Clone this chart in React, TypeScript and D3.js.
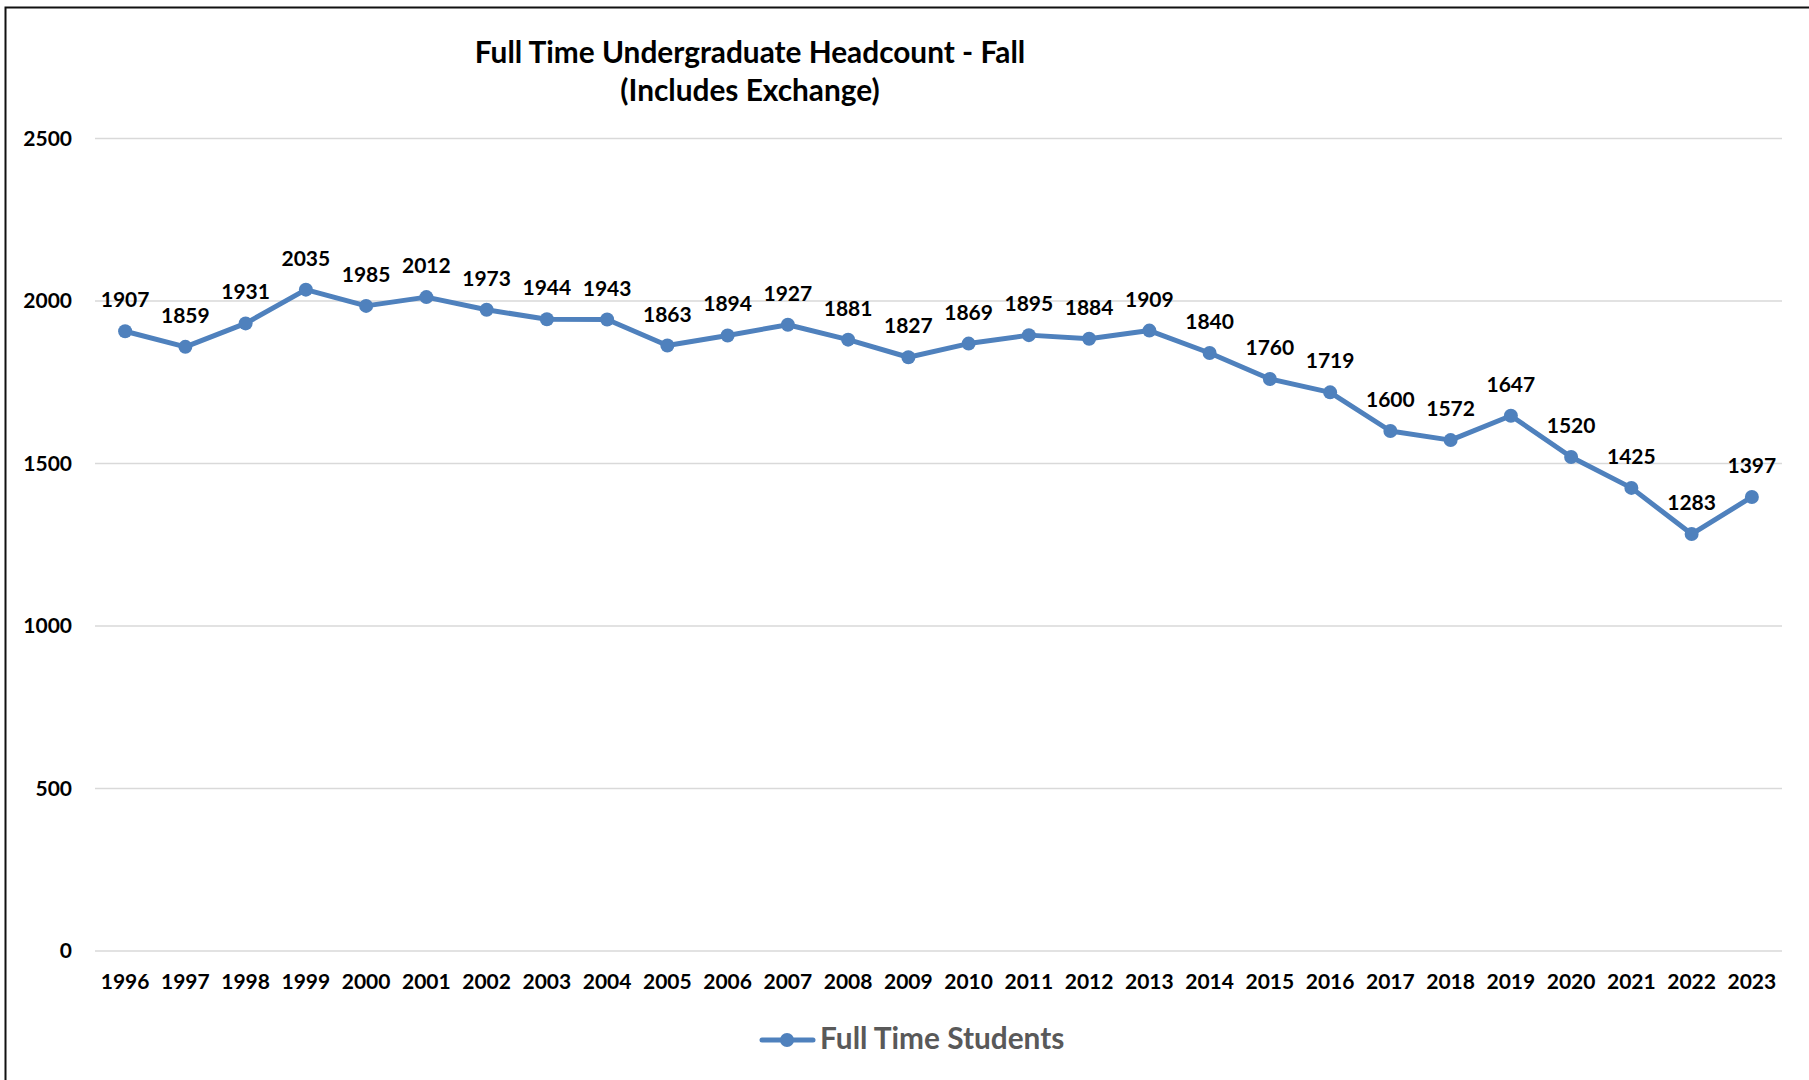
import * as d3 from "d3";
import React from "react";

const years = [
  "1996", "1997", "1998", "1999", "2000", "2001", "2002", "2003", "2004", "2005",
  "2006", "2007", "2008", "2009", "2010", "2011", "2012", "2013", "2014", "2015",
  "2016", "2017", "2018", "2019", "2020", "2021", "2022", "2023",
];

const fullTimeStudents = [
  1907, 1859, 1931, 2035, 1985, 2012, 1973, 1944, 1943, 1863,
  1894, 1927, 1881, 1827, 1869, 1895, 1884, 1909, 1840, 1760,
  1719, 1600, 1572, 1647, 1520, 1425, 1283, 1397,
];

const yTicks = [0, 500, 1000, 1500, 2000, 2500];

const titleLines = ["Full Time Undergraduate Headcount - Fall", "(Includes Exchange)"];
const seriesName = "Full Time Students";

const WIDTH = 1809;
const HEIGHT = 1080;
const BLUE = "#4f81bd";
const FONT = "Lato, 'Open Sans', sans-serif";

const App: React.FC = () => {
  const plot = { left: 95, right: 1782, top: 138.5, bottom: 951 };

  const x = d3
    .scalePoint<string>()
    .domain(years)
    .range([plot.left, plot.right])
    .padding(0.5);

  const y = d3.scaleLinear().domain([0, 2500]).range([plot.bottom, plot.top]);

  const points = years.map((yr, i) => ({ year: yr, value: fullTimeStudents[i] }));

  const line = d3
    .line<{ year: string; value: number }>()
    .x((d) => x(d.year) || 0)
    .y((d) => y(d.value));

  return (
    <div style={{ position: "absolute", left: 0, top: 0 }}>
      <svg width={WIDTH} height={HEIGHT} style={{ display: "block", background: "#fff" }}>
        {/* chart area border (runs off the right and bottom edges) */}
        <rect x={5.5} y={7.5} width={WIDTH + 10} height={HEIGHT + 10} fill="#fff" stroke="#111" strokeWidth={2} />

        {/* title */}
        <text
          x={750}
          textAnchor="middle"
          fontFamily={FONT}
          fontWeight="bold"
          fontSize={29.8}
          fill="#000"
        >
          {titleLines.map((t, i) => (
            <tspan key={t} x={750} y={63 + i * 38}>
              {t}
            </tspan>
          ))}
        </text>

        {/* gridlines + y labels */}
        {yTicks.map((t) => (
          <g key={t}>
            <line x1={plot.left} x2={plot.right} y1={y(t)} y2={y(t)} stroke="#d9d9d9" strokeWidth={1.5} />
            <text
              x={72}
              y={y(t)}
              dy="0.35em"
              textAnchor="end"
              fontFamily={FONT}
              fontWeight="bold"
              fontSize={21}
              fill="#000"
            >
              {t}
            </text>
          </g>
        ))}

        {/* x labels */}
        {years.map((yr) => (
          <text
            key={yr}
            x={x(yr)}
            y={989}
            textAnchor="middle"
            fontFamily={FONT}
            fontWeight="bold"
            fontSize={21}
            fill="#000"
          >
            {yr}
          </text>
        ))}

        {/* series */}
        <path d={line(points) || ""} fill="none" stroke={BLUE} strokeWidth={5} strokeLinejoin="round" strokeLinecap="round" />
        {points.map((d) => (
          <circle key={d.year} cx={x(d.year)} cy={y(d.value)} r={7} fill={BLUE} />
        ))}

        {/* data labels */}
        {points.map((d) => (
          <text
            key={d.year}
            x={x(d.year)}
            y={y(d.value) - 24}
            textAnchor="middle"
            fontFamily={FONT}
            fontWeight="bold"
            fontSize={21}
            fill="#000"
          >
            {d.value}
          </text>
        ))}

        {/* legend */}
        <g>
          <line x1={762} x2={813} y1={1040} y2={1040} stroke={BLUE} strokeWidth={5} strokeLinecap="round" />
          <circle cx={787} cy={1040} r={7} fill={BLUE} />
          <text x={820} y={1049} fontFamily={FONT} fontWeight="bold" fontSize={29.8} fill="#595959">
            {seriesName}
          </text>
        </g>
      </svg>
    </div>
  );
};

export default App;
